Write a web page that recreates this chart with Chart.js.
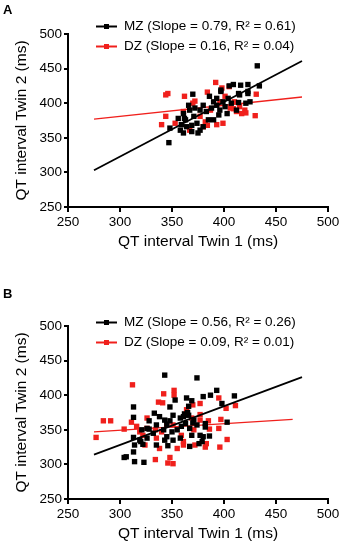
<!DOCTYPE html>
<html>
<head>
<meta charset="utf-8">
<script src="https://cdn.jsdelivr.net/npm/chart.js@4.4.1/dist/chart.umd.min.js"></script>
<style>
    html, body { margin: 0; padding: 0; background: #fff; }
    body { width: 340px; height: 546px; position: relative; overflow: hidden; font-family: "Liberation Sans", Arial, sans-serif; }
    .panel { position: absolute; left: 0; width: 340px; height: 273px; }
    .tag { position: absolute; left: 3px; font-weight: bold; font-size: 13px; line-height: 13px; color: #000; }
</style>
</head>
<body>
<div class="panel" style="top:0"><canvas id="chartA" width="340" height="273"></canvas></div>
<div class="panel" style="top:273px"><canvas id="chartB" width="340" height="273"></canvas></div>
<div class="tag" style="top:3px">A</div>
<div class="tag" style="top:287px">B</div>
<script>
// Panel A - MZ pairs (twin 1 / twin 2 QT interval, ms)
const mzTwin1A = [432, 434, 423, 416, 409, 423, 414, 370, 397, 386, 421, 414, 347, 405, 423, 415, 397, 399, 407,
    393, 388, 380, 377, 372, 366, 367, 361, 371, 363, 356, 359, 364, 369, 361, 369, 377, 380, 375, 390, 395, 403,
    396, 401, 393, 390, 383, 374, 348, 358, 385, 412, 425, 404, 362];
const mzTwin2A = [454, 425, 427, 426, 427, 417, 414, 413, 419, 410, 400, 401, 343, 425, 414, 412, 417, 402, 400,
    397, 393, 397, 390, 393, 397, 390, 385, 381, 376, 378, 369, 366, 368, 357, 359, 361, 366, 357, 376, 383, 385,
    390, 395, 407, 402, 388, 371, 364, 361, 376, 390, 402, 407, 378];

// Panel A - DZ pairs
const dzTwin1A = [346, 344, 362, 392, 398, 405, 384, 372, 344, 340, 353, 382, 393, 399, 431, 430, 415, 420, 412,
    406, 410, 367, 370, 387, 396, 361, 377, 401, 417, 380, 384, 421, 409];
const dzTwin2A = [414, 412, 410, 430, 422, 424, 416, 403, 381, 369, 371, 373, 369, 371, 413, 382, 395, 390, 388,
    393, 402, 361, 400, 390, 402, 388, 381, 410, 385, 366, 368, 386, 392];

// Panel B - MZ pairs
const mzTwin1B = [343, 374, 313, 353, 348, 364, 369, 380, 387, 393, 398, 410, 366, 304, 306, 314, 323, 313, 314,
    313, 319, 321, 313, 326, 333, 338, 335, 343, 345, 350, 345, 351, 358, 355, 351, 358, 363, 359, 366, 367, 371,
    369, 367, 374, 377, 380, 386, 379, 376, 403, 382, 361, 348, 342, 332, 326, 322, 328, 365, 362, 382, 370, 335,
    346, 343, 328, 320];
const mzTwin2B = [429, 425, 383, 393, 383, 396, 392, 398, 400, 407, 388, 399, 384, 310, 311, 304, 303, 318, 328,
    339, 335, 350, 368, 352, 374, 369, 357, 364, 358, 347, 340, 335, 338, 350, 371, 367, 359, 355, 371, 352, 364,
    342, 326, 357, 342, 340, 341, 333, 330, 361, 359, 369, 363, 350, 345, 338, 329, 363, 375, 373, 354, 360, 328,
    327, 335, 351, 333];

// Panel B - DZ pairs
const dzTwin1B = [312, 342, 352, 352, 337, 341, 395, 411, 377, 277, 284, 291, 304, 311, 316, 326, 324, 322, 334,
    335, 340, 338, 348, 351, 346, 355, 351, 359, 361, 371, 372, 369, 377, 382, 383, 385, 386, 396, 395, 397, 403,
    364, 345, 334, 326, 319, 402, 377, 370, 361];
const dzTwin2B = [415, 402, 407, 400, 390, 389, 396, 385, 388, 339, 363, 363, 351, 361, 355, 367, 328, 342, 307,
    338, 347, 323, 310, 301, 302, 323, 357, 342, 333, 350, 328, 367, 364, 325, 330, 363, 351, 325, 352, 365, 336,
    379, 358, 350, 352, 347, 381, 372, 386, 328];

// Regression lines (end points)
const fitXA = [275, 475];
const mzFitA = [303, 461];
const dzFitA = [377, 409];
const mzFitXB = [275, 475];
const mzFitB = [314, 426];
const dzFitXB = [275, 466];
const dzFitB = [347, 365];

const axisTicks = [250, 300, 350, 400, 450, 500];
const legendA = ['MZ (Slope = 0.79, R\u00b2 = 0.61)', 'DZ (Slope = 0.16, R\u00b2 = 0.04)'];
const legendB = ['MZ (Slope = 0.56, R\u00b2 = 0.26)', 'DZ (Slope = 0.09, R\u00b2 = 0.01)'];
const xTitle = 'QT interval Twin 1 (ms)';
const yTitle = 'QT interval Twin 2 (ms)';

const BLACK = '#000000';
const RED = '#f0201c';
const FONT = '"Liberation Sans", Arial, Helvetica, sans-serif';

function toPoints(xs, ys) {
    return xs.map((x, i) => ({ x: x, y: ys[i] }));
}

// draws the "line + square" legend like the original figure
const twinLegend = {
    id: 'twinLegend',
    afterDraw(chart, args, opts) {
        const ctx = chart.ctx;
        ctx.save();
        ctx.font = '13.5px ' + FONT;
        ctx.textBaseline = 'middle';
        opts.items.forEach((text, i) => {
            const y = opts.rows[i];
            const color = i === 0 ? BLACK : RED;
            ctx.strokeStyle = color;
            ctx.lineWidth = 2;
            ctx.beginPath();
            ctx.moveTo(opts.x, y);
            ctx.lineTo(opts.x + 21, y);
            ctx.stroke();
            ctx.fillStyle = color;
            ctx.fillRect(opts.x + 8, y - 2.5, 5, 5);
            ctx.fillStyle = '#000';
            ctx.fillText(text, opts.x + 28, y);
        });
        ctx.restore();
    }
};

function axisOptions(title, isX) {
    return {
        type: 'linear',
        min: 250,
        max: 500,
        afterBuildTicks: axis => { axis.ticks = axisTicks.map(v => ({ value: v })); },
        afterFit: axis => {
            if (isX) axis.height = 46; else axis.width = 68;
            axis.paddingLeft = 0; axis.paddingRight = 0;
            axis.paddingTop = 0; axis.paddingBottom = 0;
        },
        border: { display: true, color: BLACK, width: 2 },
        grid: { drawOnChartArea: false, drawTicks: true, tickLength: isX ? 5 : 4, tickColor: BLACK, lineWidth: 2 },
        ticks: { color: BLACK, padding: 2, font: { family: FONT, size: 13.5 }, maxRotation: 0 },
        title: {
            display: true,
            text: title,
            color: BLACK,
            font: { family: FONT, size: 15.5 },
            padding: isX ? { top: 0, bottom: 2 } : { top: 12, bottom: 0 }
        }
    };
}

function createPanel(canvasId, p) {
    const ctx = document.getElementById(canvasId).getContext('2d');
    return new Chart(ctx, {
        type: 'scatter',
        data: {
            datasets: [{
                label: 'MZ fit',
                data: toPoints(p.mzFitX, p.mzFit),
                showLine: true,
                borderColor: BLACK,
                borderWidth: 1.8,
                pointRadius: 0
            }, {
                label: 'MZ',
                data: toPoints(p.mz1, p.mz2),
                pointStyle: 'rect',
                pointRadius: 3.8,
                pointBorderWidth: 0,
                backgroundColor: BLACK,
                borderColor: BLACK
            }, {
                label: 'DZ',
                data: toPoints(p.dz1, p.dz2),
                pointStyle: 'rect',
                pointRadius: 3.8,
                pointBorderWidth: 0,
                backgroundColor: RED,
                borderColor: RED
            }, {
                label: 'DZ fit',
                data: toPoints(p.dzFitX, p.dzFit),
                showLine: true,
                borderColor: RED,
                borderWidth: 1.4,
                pointRadius: 0
            }]
        },
        options: {
            responsive: false,
            devicePixelRatio: 1,
            animation: false,
            events: [],
            layout: { padding: p.padding },
            scales: {
                x: axisOptions(xTitle, true),
                y: axisOptions(yTitle, false)
            },
            plugins: {
                legend: { display: false },
                tooltip: { enabled: false },
                twinLegend: { items: p.legend, rows: p.legendRows, x: 96 }
            }
        },
        plugins: [twinLegend]
    });
}

createPanel('chartA', {
    mz1: mzTwin1A, mz2: mzTwin2A, dz1: dzTwin1A, dz2: dzTwin2A,
    mzFitX: fitXA, mzFit: mzFitA, dzFitX: fitXA, dzFit: dzFitA,
    legend: legendA, legendRows: [26.5, 46.5],
    padding: { top: 34, right: 12, bottom: 20, left: 0 }
});

createPanel('chartB', {
    mz1: mzTwin1B, mz2: mzTwin2B, dz1: dzTwin1B, dz2: dzTwin2B,
    mzFitX: mzFitXB, mzFit: mzFitB, dzFitX: dzFitXB, dzFit: dzFitB,
    legend: legendB, legendRows: [49.5, 69.5],
    padding: { top: 53, right: 12, bottom: 1, left: 0 }
});
</script>
</body>
</html>
